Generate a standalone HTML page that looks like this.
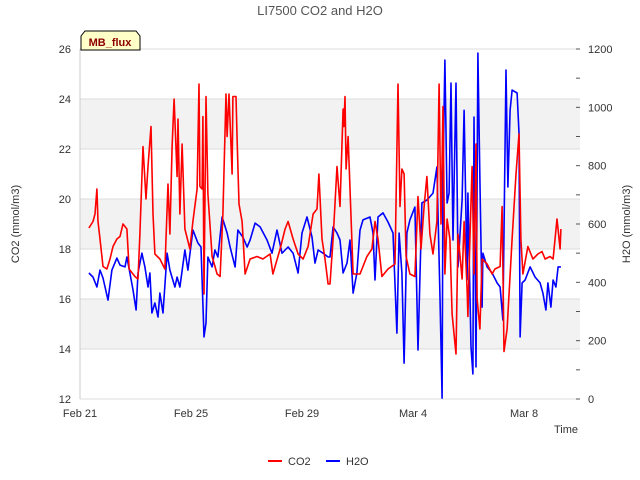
<!DOCTYPE html>
<html><head><meta charset="utf-8"><style>
html,body{margin:0;padding:0;background:#fff;}
svg{display:block;font-family:"Liberation Sans",sans-serif;}
</style></head><body>
<svg id="chart" width="640" height="480" viewBox="0 0 640 480">
<text x="320" y="15" text-anchor="middle" font-size="13" fill="#555">LI7500 CO2 and H2O</text>
<g id="bands"></g>
<g id="grid"></g>
<g id="axes"></g>
<g id="series"></g>
<g>
<path d="M81,50 L81,36 L85,31 L136,31 L140,36 L140,50 Z" fill="#ffffc8" stroke="#000" stroke-width="1"/>
<text x="110" y="46" text-anchor="middle" font-size="11" font-weight="bold" fill="#8b0000">MB_flux</text>
</g>
<text transform="translate(19,224) rotate(-90)" text-anchor="middle" font-size="11" fill="#333">CO2 (mmol/m3)</text>
<text transform="translate(630,224) rotate(-90)" text-anchor="middle" font-size="11" fill="#333">H2O (mmol/m3)</text>
<text x="578" y="433" text-anchor="end" font-size="11" fill="#333">Time</text>
<g>
<g><line x1="268" y1="461" x2="282" y2="461" stroke="#f00" stroke-width="2"/><text x="288" y="465" font-size="11" fill="#333">CO2</text></g>
<g><line x1="326" y1="461" x2="340" y2="461" stroke="#00f" stroke-width="2"/><text x="346" y="465" font-size="11" fill="#333">H2O</text></g>
</g>
</svg>
<script>
const xTickLabels=["Feb 21","Feb 25","Feb 29","Mar 4","Mar 8"];
const xTickDays=[0,4,8,12,16];
const leftTicks=[12,14,16,18,20,22,24,26];
const rightTicks=[0,200,400,600,800,1000,1200];
const co2Days=[0.32,0.47,0.54,0.61,0.65,0.72,0.83,0.97,1.08,1.19,1.33,1.44,1.55,1.69,1.77,1.98,2.09,2.16,2.27,2.38,2.45,2.56,2.63,2.70,2.88,3.06,3.17,3.24,3.32,3.39,3.50,3.53,3.60,3.68,3.78,3.96,4.07,4.22,4.29,4.32,4.40,4.43,4.47,4.54,4.61,4.76,4.94,5.05,5.15,5.26,5.30,5.37,5.48,5.51,5.62,5.66,5.73,5.84,5.95,6.13,6.38,6.59,6.85,6.95,7.21,7.39,7.50,7.68,7.86,8.04,8.22,8.40,8.54,8.61,8.72,8.83,8.94,9.01,9.12,9.26,9.37,9.48,9.51,9.55,9.59,9.66,9.77,9.84,10.09,10.34,10.52,10.63,10.74,10.88,11.10,11.35,11.46,11.53,11.60,11.68,11.75,11.89,12.07,12.18,12.29,12.40,12.50,12.61,12.72,12.86,12.94,13.01,13.08,13.15,13.23,13.33,13.41,13.55,13.62,13.77,13.84,13.95,13.98,14.05,14.13,14.20,14.27,14.31,14.41,14.49,14.67,14.85,14.95,15.14,15.21,15.28,15.39,15.57,15.71,15.82,15.89,15.96,16.14,16.32,16.50,16.65,16.76,16.94,17.05,17.19,17.30,17.33];
const co2Values=[18.84,19.1,19.4,20.4,19.1,18.4,17.3,17.2,17.6,18.1,18.4,18.5,19.0,18.8,17.2,16.9,16.8,18.6,22.1,20.0,21.3,22.9,19.4,17.8,17.6,17.2,20.6,18.6,22.1,24.0,20.9,23.2,19.4,22.2,18.8,18.0,19.1,20.4,24.6,20.5,20.4,23.3,16.2,24.1,20.2,17.7,17.0,16.9,19.4,24.2,22.5,24.2,21.0,24.1,24.1,22.4,19.8,19.1,17.0,17.6,17.7,17.6,17.8,17.0,18.0,18.8,19.1,18.4,17.8,17.6,18.1,19.4,19.6,21.0,18.4,17.6,16.6,16.6,18.4,21.3,19.7,23.6,22.9,24.1,21.2,22.5,19.2,17.0,17.0,17.7,18.0,19.1,18.4,16.9,17.2,17.4,24.6,19.7,21.2,21.0,17.7,17.0,16.9,20.1,18.0,19.7,20.9,18.6,17.8,19.1,24.6,19.0,23.7,17.0,19.2,18.4,15.4,13.8,18.6,16.8,19.1,16.4,15.3,18.4,21.3,17.0,22.2,16.0,14.8,17.6,17.4,17.0,17.2,17.3,19.7,13.9,14.8,18.4,21.0,22.6,18.4,17.0,18.1,17.6,17.8,17.9,17.6,17.7,17.6,19.2,18.0,18.8];
const h2oDays=[0.32,0.47,0.61,0.72,0.83,1.01,1.15,1.33,1.44,1.62,1.69,1.80,1.91,2.02,2.09,2.23,2.34,2.45,2.52,2.59,2.70,2.81,2.88,2.99,3.14,3.24,3.42,3.50,3.60,3.78,3.89,4.07,4.25,4.36,4.47,4.54,4.61,4.76,4.86,4.97,5.12,5.30,5.41,5.59,5.69,5.87,6.02,6.13,6.31,6.49,6.74,6.92,7.10,7.28,7.50,7.68,7.86,8.00,8.18,8.36,8.47,8.58,8.76,8.94,9.01,9.12,9.26,9.37,9.48,9.62,9.73,9.84,9.98,10.09,10.20,10.45,10.56,10.63,10.74,10.92,11.10,11.28,11.42,11.50,11.60,11.68,11.78,11.89,12.07,12.18,12.32,12.50,12.72,12.86,12.97,13.05,13.08,13.15,13.23,13.30,13.37,13.44,13.55,13.62,13.77,13.84,13.95,13.98,14.09,14.16,14.20,14.27,14.34,14.41,14.49,14.52,14.67,14.85,15.03,15.14,15.24,15.35,15.42,15.50,15.57,15.75,15.82,15.86,15.93,16.04,16.22,16.40,16.58,16.68,16.79,16.86,16.97,17.05,17.15,17.23,17.33];
const h2oValues=[432,418,384,442,415,339,442,483,459,453,487,432,374,305,432,500,453,384,432,295,329,281,363,295,500,442,384,418,384,511,442,579,535,521,213,261,487,453,511,487,624,569,521,453,579,555,521,545,603,590,545,500,579,500,521,500,432,569,624,555,466,511,500,487,487,590,569,545,432,466,545,363,432,579,614,624,569,408,624,638,607,569,226,569,432,123,569,614,658,168,672,682,706,795,363,3,775,1162,672,706,1083,545,1083,453,682,990,408,706,178,86,967,110,1186,751,315,500,453,432,398,384,271,1128,727,990,1059,1049,912,213,398,408,453,418,398,363,305,398,315,408,384,453,453];

const X0=80,X1=580,Y0=49,Y1=399,DAYW=27.75;
function xs(d){return X0+d*DAYW;}
function yl(v){return Y1-(v-12)/14*(Y1-Y0);}
function yr(v){return Y1-v/1200*(Y1-Y0);}
const NS="http://www.w3.org/2000/svg";
function mk(tag,attrs,parent){const e=document.createElementNS(NS,tag);for(const k in attrs)e.setAttribute(k,attrs[k]);parent.appendChild(e);return e;}
const bands=document.getElementById('bands'),grid=document.getElementById('grid'),axes=document.getElementById('axes'),series=document.getElementById('series');
[[22,24],[18,20],[14,16]].forEach(function(b){
  const r=mk('rect',{x:X0,y:yl(b[1]),width:X1-X0,height:yl(b[0])-yl(b[1]),fill:'#f2f2f2'},bands);
  
  
});
leftTicks.forEach(function(t){
  const l=mk('line',{x1:X0,x2:X1,y1:yl(t),y2:yl(t),stroke:'#dcdcdc','stroke-width':1},grid);
  
  
  const tx=mk('text',{x:71,y:yl(t)+4,'text-anchor':'end','font-size':11,fill:'#333'},axes);
  tx.textContent=t;
  
  
});
rightTicks.forEach(function(t){
  const tx=mk('text',{x:588,y:yr(t)+4,'font-size':11,fill:'#333'},axes);
  tx.textContent=t;
  
  
});
for(let v=0;v<=1200;v+=100){
  const tk=mk('line',{x1:576,x2:580,y1:yr(v),y2:yr(v),stroke:'#555'},axes);
  
  
}
const al=mk('line',{x1:X0,x2:X0,y1:Y0,y2:Y1,stroke:'#ccc'},axes);


xTickLabels.forEach(function(lb,i){
  const tx=mk('text',{x:xs(xTickDays[i]),y:417,'text-anchor':'middle','font-size':11,fill:'#333'},axes);
  tx.textContent=lb;
  
  
});
function pts(days,vals,f){return days.map(function(d,i){return xs(d).toFixed(1)+','+f(vals[i]).toFixed(1);}).join(' ');}
const h=mk('polyline',{points:pts(h2oDays,h2oValues,yr),fill:'none',stroke:'#0000ff','stroke-width':1.6,'stroke-linejoin':'round'},series);


const c=mk('polyline',{points:pts(co2Days,co2Values,yl),fill:'none',stroke:'#ff0000','stroke-width':1.6,'stroke-linejoin':'round'},series);


</script>
</body></html>
